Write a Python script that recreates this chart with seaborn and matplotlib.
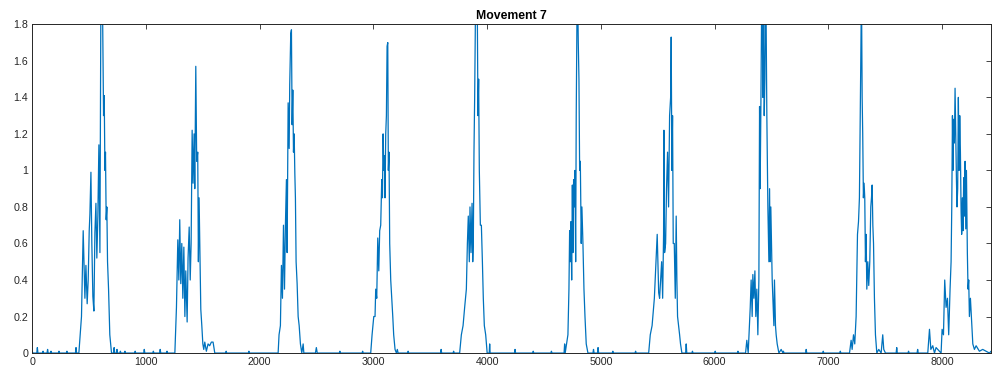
import numpy as np
import pandas as pd
import matplotlib
matplotlib.use("Agg")
import matplotlib.pyplot as plt
import seaborn as sns

# Sample indices / amplitudes, burst by burst
quiet0_x = [0, 5, 10, 40, 45, 50, 90, 95, 100, 130, 135, 140, 160, 165, 170, 230, 235, 240, 300, 305, 310, 380, 385, 390]
quiet0_y = [0.01, 0.0, 0.0, 0.0, 0.03, 0.0, 0.0, 0.01, 0.0, 0.0, 0.02, 0.0, 0.0, 0.01, 0.0, 0.0, 0.01, 0.0, 0.0, 0.01, 0.0, 0.0, 0.03, 0.0]
b1_x = [410, 433, 448, 463, 472, 483, 492, 501, 507, 516, 524, 533, 542, 551, 560, 568, 577, 586, 595, 603, 610, 618, 627, 633, 639, 644, 650, 656, 662, 671, 682, 697]
b1_y = [0.0, 0.2, 0.67, 0.3, 0.48, 0.27, 0.4, 0.67, 0.76, 0.99, 0.6, 0.31, 0.23, 0.66, 0.82, 0.52, 0.75, 1.14, 0.55, 1.85, 1.95, 1.9, 1.3, 1.41, 1.0, 1.1, 0.73, 0.8, 0.5, 0.35, 0.1, 0.0]
quiet1_x = [715, 720, 725, 740, 745, 750, 770, 775, 780, 810, 815, 820, 900, 905, 910, 980, 985, 990, 1060, 1065, 1070, 1120, 1125, 1130, 1180, 1185, 1190]
quiet1_y = [0.0, 0.03, 0.0, 0.0, 0.02, 0.0, 0.0, 0.01, 0.0, 0.0, 0.01, 0.0, 0.0, 0.01, 0.0, 0.0, 0.02, 0.0, 0.0, 0.01, 0.0, 0.0, 0.02, 0.0, 0.0, 0.01, 0.0]
b2_x = [1254, 1268, 1280, 1289, 1297, 1306, 1315, 1324, 1333, 1342, 1350, 1362, 1370, 1380, 1389, 1397, 1406, 1414, 1423, 1429, 1438, 1446, 1455, 1461, 1467, 1476, 1482, 1491, 1500, 1508, 1517, 1531, 1546, 1560, 1575, 1590, 1605]
b2_y = [0.0, 0.25, 0.62, 0.4, 0.73, 0.38, 0.6, 0.3, 0.58, 0.2, 0.45, 0.17, 0.52, 0.69, 0.4, 0.6, 1.22, 0.93, 1.2, 0.9, 1.57, 1.05, 1.1, 0.5, 0.85, 0.5, 0.24, 0.15, 0.05, 0.02, 0.06, 0.01, 0.05, 0.04, 0.06, 0.06, 0.0]
quiet2_x = [1700, 1705, 1710, 1900, 1905, 1910, 2100, 2150]
quiet2_y = [0.0, 0.01, 0.0, 0.0, 0.01, 0.0, 0.0, 0.0]
b3_x = [2162, 2170, 2182, 2191, 2200, 2209, 2218, 2226, 2235, 2241, 2250, 2259, 2264, 2273, 2279, 2285, 2291, 2297, 2303, 2309, 2314, 2320, 2329, 2338, 2347, 2358, 2370, 2382, 2388]
b3_y = [0.0, 0.1, 0.15, 0.48, 0.3, 0.7, 0.35, 0.7, 0.95, 0.55, 1.37, 1.12, 1.47, 1.75, 1.77, 1.25, 1.44, 1.1, 1.2, 0.98, 0.85, 0.5, 0.38, 0.2, 0.15, 0.05, 0.0, 0.05, 0.0]
quiet3_x = [2490, 2498, 2506, 2700, 2705, 2710, 2900, 2905, 2910]
quiet3_y = [0.0, 0.03, 0.0, 0.0, 0.01, 0.0, 0.0, 0.01, 0.0]
b4_x = [2976, 2988, 3003, 3014, 3020, 3029, 3038, 3047, 3055, 3064, 3073, 3079, 3085, 3091, 3096, 3102, 3108, 3114, 3120, 3126, 3131, 3137, 3143, 3152, 3161, 3170, 3178, 3190, 3202, 3210, 3217]
b4_y = [0.0, 0.1, 0.2, 0.2, 0.35, 0.3, 0.63, 0.45, 0.67, 0.7, 0.95, 0.85, 1.2, 1.0, 1.08, 0.85, 1.2, 1.3, 1.68, 1.7, 1.0, 1.1, 0.6, 0.4, 0.3, 0.2, 0.1, 0.02, 0.0, 0.02, 0.0]
quiet4_x = [3300, 3305, 3310, 3590, 3595, 3600, 3700, 3705, 3710]
quiet4_y = [0.0, 0.01, 0.0, 0.0, 0.02, 0.0, 0.0, 0.01, 0.0]
b5_x = [3758, 3773, 3788, 3802, 3817, 3826, 3834, 3843, 3849, 3858, 3867, 3873, 3878, 3884, 3890, 3896, 3905, 3914, 3919, 3925, 3931, 3940, 3949, 3958, 3966, 3975, 3987, 4000, 4018, 4022, 4026]
b5_y = [0.0, 0.1, 0.15, 0.25, 0.35, 0.6, 0.75, 0.5, 0.8, 0.55, 0.82, 0.5, 0.6, 1.1, 1.4, 1.8, 2.0, 1.8, 1.3, 1.5, 1.0, 0.7, 0.7, 0.5, 0.3, 0.15, 0.1, 0.0, 0.0, 0.05, 0.0]
quiet5_x = [4240, 4245, 4250, 4400, 4405, 4410, 4560, 4565, 4570]
quiet5_y = [0.0, 0.02, 0.0, 0.0, 0.01, 0.0, 0.0, 0.01, 0.0]
b6_x = [4676, 4681, 4686, 4710, 4719, 4725, 4731, 4737, 4743, 4749, 4754, 4760, 4766, 4772, 4778, 4783, 4789, 4795, 4801, 4807, 4813, 4819, 4827, 4833, 4842, 4851, 4860, 4871, 4886]
b6_y = [0.0, 0.05, 0.0, 0.1, 0.35, 0.67, 0.5, 0.72, 0.4, 0.92, 0.55, 0.95, 0.8, 1.0, 0.5, 1.3, 1.8, 2.0, 1.7, 1.5, 1.0, 1.05, 0.6, 0.8, 0.6, 0.35, 0.2, 0.05, 0.0]
quiet6_x = [4930, 4935, 4940, 4970, 4975, 4980, 5100, 5105, 5110, 5300, 5305, 5310]
quiet6_y = [0.0, 0.02, 0.0, 0.0, 0.03, 0.0, 0.0, 0.01, 0.0, 0.0, 0.01, 0.0]
b7_x = [5420, 5434, 5450, 5470, 5495, 5508, 5516, 5525, 5534, 5543, 5551, 5554, 5560, 5569, 5577, 5586, 5595, 5604, 5613, 5618, 5624, 5630, 5636, 5645, 5654, 5662, 5668, 5674, 5683, 5692, 5700, 5712, 5745, 5750, 5755]
b7_y = [0.0, 0.1, 0.15, 0.3, 0.65, 0.33, 0.3, 0.4, 0.5, 0.3, 0.65, 1.22, 0.55, 0.6, 0.9, 1.1, 0.8, 1.3, 1.4, 1.73, 1.0, 1.3, 0.6, 0.6, 0.3, 0.75, 0.4, 0.2, 0.15, 0.1, 0.05, 0.0, 0.0, 0.05, 0.0]
quiet7_x = [5800, 5805, 5810, 6000, 6005, 6010, 6200, 6205, 6210]
quiet7_y = [0.0, 0.01, 0.0, 0.0, 0.01, 0.0, 0.0, 0.01, 0.0]
b8_x = [6272, 6283, 6295, 6313, 6321, 6330, 6336, 6345, 6354, 6362, 6371, 6380, 6389, 6395, 6400, 6406, 6412, 6418, 6424, 6430, 6436, 6442, 6447, 6453, 6459, 6468, 6477, 6483, 6488, 6494, 6500, 6506, 6515, 6521, 6526, 6535, 6541, 6550, 6565, 6585]
b8_y = [0.0, 0.07, 0.0, 0.25, 0.4, 0.2, 0.43, 0.3, 0.45, 0.2, 0.35, 0.1, 0.4, 1.35, 0.9, 1.3, 1.8, 2.0, 1.4, 1.8, 1.3, 1.5, 2.0, 1.8, 1.3, 0.8, 0.5, 0.9, 0.5, 0.8, 0.6, 0.4, 0.25, 0.15, 0.4, 0.15, 0.1, 0.05, 0.0, 0.02]
quiet8_x = [6600, 6605, 6610, 6800, 6805, 6810, 6950, 6955, 6960, 7100, 7105, 7110]
quiet8_y = [0.0, 0.01, 0.0, 0.0, 0.02, 0.0, 0.0, 0.01, 0.0, 0.0, 0.01, 0.0]
b9_x = [7186, 7200, 7209, 7221, 7232, 7244, 7256, 7265, 7273, 7279, 7285, 7291, 7297, 7302, 7308, 7314, 7320, 7326, 7332, 7338, 7347, 7355, 7364, 7373, 7379, 7385, 7391, 7397, 7405, 7414, 7426, 7443, 7464, 7478, 7487, 7502, 7596, 7601, 7606]
b9_y = [0.0, 0.07, 0.02, 0.1, 0.05, 0.2, 0.65, 0.72, 0.85, 1.2, 1.6, 2.0, 1.4, 1.2, 0.85, 0.93, 0.85, 0.5, 0.65, 0.35, 0.5, 0.37, 0.5, 0.8, 0.85, 0.92, 0.7, 0.6, 0.3, 0.1, 0.0, 0.02, 0.0, 0.1, 0.02, 0.0, 0.0, 0.03, 0.0]
quiet9_x = [7700, 7705, 7710, 7780, 7785, 7790]
quiet9_y = [0.0, 0.01, 0.0, 0.0, 0.02, 0.0]
b10_x = [7874, 7889, 7901, 7918, 7933, 7947, 7991, 8000, 8012, 8023, 8035, 8047, 8058, 8070, 8079, 8085, 8091, 8096, 8102, 8108, 8114, 8120, 8126, 8131, 8137, 8143, 8149, 8155, 8161, 8167, 8172, 8178, 8184, 8190, 8196, 8202, 8208, 8214, 8222, 8228, 8234, 8240, 8249, 8270, 8284, 8299, 8328, 8357, 8387, 8416, 8430]
b10_y = [0.0, 0.13, 0.02, 0.04, 0.0, 0.03, 0.0, 0.13, 0.1, 0.4, 0.25, 0.3, 0.1, 0.35, 0.5, 0.8, 1.3, 1.0, 1.28, 1.15, 1.45, 1.2, 0.95, 0.8, 0.9, 1.4, 1.0, 1.3, 1.1, 0.77, 0.65, 0.85, 0.67, 0.96, 0.75, 1.05, 0.68, 1.0, 0.55, 0.35, 0.4, 0.2, 0.3, 0.05, 0.02, 0.04, 0.01, 0.02, 0.01, 0.0, 0.01]

xs = [quiet0_x, b1_x, quiet1_x, b2_x, quiet2_x, b3_x, quiet3_x, b4_x, quiet4_x, b5_x,
      quiet5_x, b6_x, quiet6_x, b7_x, quiet7_x, b8_x, quiet8_x, b9_x, quiet9_x, b10_x]
ys = [quiet0_y, b1_y, quiet1_y, b2_y, quiet2_y, b3_y, quiet3_y, b4_y, quiet4_y, b5_y,
      quiet5_y, b6_y, quiet6_y, b7_y, quiet7_y, b8_y, quiet8_y, b9_y, quiet9_y, b10_y]
df = pd.DataFrame({"sample": np.concatenate(xs), "emg": np.concatenate(ys)})

sns.set_style("white")
plt.rcParams["font.family"] = ["Liberation Sans", "DejaVu Sans"]

fig = plt.figure(figsize=(9.92, 3.74), dpi=100)
ax = fig.add_axes([0.0325, 0.056, 0.9665, 0.879])
sns.lineplot(data=df, x="sample", y="emg", ax=ax, color="#0072BD",
             linewidth=0.9, sort=False, estimator=None)

ax.set_xlim(0, 8430)
ax.set_ylim(0, 1.8)
ax.set_xticks(np.arange(0, 8001, 1000))
ax.set_yticks(np.arange(0, 1.81, 0.2))
ax.set_yticklabels(["0", "0.2", "0.4", "0.6", "0.8", "1", "1.2", "1.4", "1.6", "1.8"])
ax.set_xlabel("")
ax.set_ylabel("")
ax.tick_params(direction="in", length=3.5, width=0.6, colors="#262626",
               labelsize=7.7, top=True, right=True, labeltop=False, labelright=False, pad=3)
for s in ax.spines.values():
    s.set_color("#262626")
    s.set_linewidth(0.7)
ax.set_title("Movement 7", fontsize=8.8, fontweight="bold", color="black", pad=4)

fig.savefig("out.png", dpi=100)
